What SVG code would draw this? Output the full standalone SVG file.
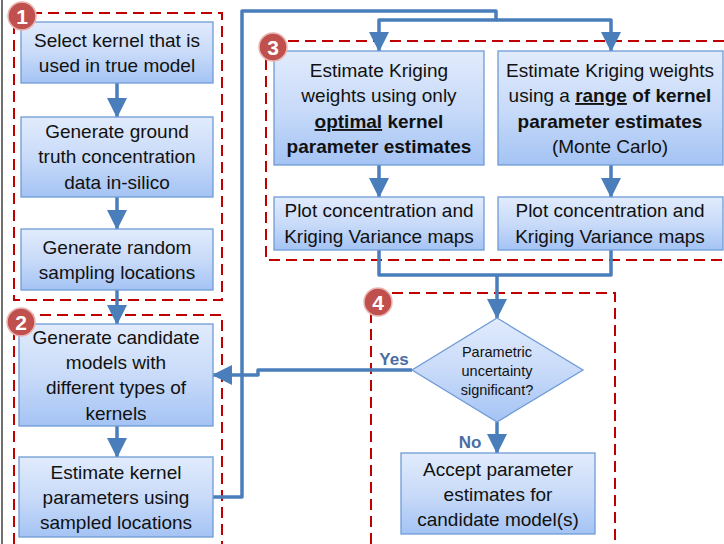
<svg xmlns="http://www.w3.org/2000/svg" width="724" height="544" viewBox="0 0 724 544">
<style>
.box{fill:url(#g);stroke:#6f9bd6;stroke-width:1.3}
.t{font-family:"Liberation Sans",Arial,sans-serif;font-size:19px;fill:#111;text-anchor:middle}
.b{font-weight:bold}
.u{text-decoration:underline}
.dt{font-family:"Liberation Sans",Arial,sans-serif;font-size:14.5px;fill:#111;text-anchor:middle}
.c{fill:none;stroke:#4a7ebb;stroke-width:3.5;stroke-linejoin:round}
.ca{marker-end:url(#ah)}
.grp{fill:none;stroke:#c00000;stroke-width:2;stroke-dasharray:11 6}
.badge{fill:#c0504d;stroke:#e8b5b3;stroke-width:1.5}
.bn{font-family:"Liberation Sans",Arial,sans-serif;font-size:21px;font-weight:bold;fill:#fff;text-anchor:middle}
.lbl{font-family:"Liberation Sans",Arial,sans-serif;font-size:17px;font-weight:bold;fill:#4a6ea4;text-anchor:middle}
</style>
<defs>
<linearGradient id="g" x1="0" y1="0" x2="0" y2="1">
<stop offset="0" stop-color="#e1ebfc"/>
<stop offset="0.5" stop-color="#c9dbf9"/>
<stop offset="1" stop-color="#a4c3f4"/>
</linearGradient>
<marker id="ah" markerUnits="userSpaceOnUse" markerWidth="20" markerHeight="20" refX="19" refY="10" orient="auto">
<path d="M0,0 L20,10 L0,20 Z" fill="#4a7ebb"/>
</marker>
</defs>
<rect width="724" height="544" fill="#fff"/>
<line x1="2" y1="0" x2="2" y2="544" stroke="#222" stroke-width="1.3"/>

<g id="groups">
<rect class="grp" x="14" y="13" width="208" height="287"/>
<path class="grp" d="M14 544 V315 H222 V544"/>
<path class="grp" d="M724 41 H266 V260 H724"/>
<path class="grp" d="M371 544 V293 H615 V544"/>
</g>

<g id="connectors">
<path class="c ca" d="M117 83 V117"/>
<path class="c ca" d="M117 197 V229"/>
<path class="c ca" d="M117 290 V324"/>
<path class="c ca" d="M117 426 V457"/>
<path class="c ca" d="M213 497 H242 V11 H496 V20 H379 V51"/>
<path class="c ca" d="M496 20 H611 V51"/>
<path class="c ca" d="M379 165 V197"/>
<path class="c ca" d="M611 165 V197"/>
<path class="c" d="M379 250 V275 H611 V250"/>
<path class="c ca" d="M497 275 V318"/>
<path class="c ca" d="M412 370 H258 V375 H213"/>
<path class="c ca" d="M497 422 V453"/>
</g>

<g id="n1">
<rect class="box" x="21" y="22" width="192" height="61"/>
<text class="t" x="117" y="47">Select kernel that is</text>
<text class="t" x="117" y="72">used in true model</text>
</g>
<g id="n2">
<rect class="box" x="21" y="117" width="192" height="80"/>
<text class="t" x="117" y="138">Generate ground</text>
<text class="t" x="117" y="163">truth concentration</text>
<text class="t" x="117" y="189">data in-silico</text>
</g>
<g id="n3">
<rect class="box" x="21" y="229" width="192" height="61"/>
<text class="t" x="117" y="254">Generate random</text>
<text class="t" x="117" y="279">sampling locations</text>
</g>
<g id="n4">
<rect class="box" x="19" y="324" width="194" height="102"/>
<text class="t" x="116" y="344">Generate candidate</text>
<text class="t" x="116" y="369">models with</text>
<text class="t" x="116" y="394">different types of</text>
<text class="t" x="116" y="420">kernels</text>
</g>
<g id="n5">
<rect class="box" x="19" y="457" width="194" height="80"/>
<text class="t" x="116" y="479">Estimate kernel</text>
<text class="t" x="116" y="504">parameters using</text>
<text class="t" x="116" y="529">sampled locations</text>
</g>
<g id="n6">
<rect class="box" x="274" y="51" width="210" height="114"/>
<text class="t" x="379" y="77">Estimate Kriging</text>
<text class="t" x="379" y="102">weights using only</text>
<text class="t b" x="379" y="128"><tspan class="u">optimal</tspan> kernel</text>
<text class="t b" x="379" y="153">parameter estimates</text>
</g>
<g id="n7">
<rect class="box" x="498" y="51" width="225" height="114"/>
<text class="t" x="610" y="77">Estimate Kriging weights</text>
<text class="t" x="610" y="102">using a <tspan class="b u">range</tspan><tspan class="b"> of kernel</tspan></text>
<text class="t b" x="610" y="128">parameter estimates</text>
<text class="t" x="610" y="153">(Monte Carlo)</text>
</g>
<g id="n8">
<rect class="box" x="274" y="197" width="210" height="53"/>
<text class="t" x="379" y="217">Plot concentration and</text>
<text class="t" x="379" y="243">Kriging Variance maps</text>
</g>
<g id="n9">
<rect class="box" x="498" y="197" width="225" height="53"/>
<text class="t" x="610" y="217">Plot concentration and</text>
<text class="t" x="610" y="243">Kriging Variance maps</text>
</g>
<g id="n10">
<path class="box" d="M497 318 L583 370 L497 422 L412 370 Z"/>
<text class="dt" x="497" y="357">Parametric</text>
<text class="dt" x="497" y="376">uncertainty</text>
<text class="dt" x="497" y="395">significant?</text>
</g>
<g id="n11">
<rect class="box" x="401" y="453" width="194" height="81"/>
<text class="t" x="498" y="476">Accept parameter</text>
<text class="t" x="498" y="501">estimates for</text>
<text class="t" x="498" y="526">candidate model(s)</text>
</g>
<g id="labels">
<text class="lbl" x="394" y="365">Yes</text>
<text class="lbl" x="470" y="448">No</text>
</g>
<g id="badges">
<circle class="badge" cx="22" cy="16" r="14"/><text class="bn" x="22" y="23.5">1</text>
<circle class="badge" cx="21" cy="322" r="14"/><text class="bn" x="21" y="329.5">2</text>
<circle class="badge" cx="273" cy="47" r="14"/><text class="bn" x="273" y="54.5">3</text>
<circle class="badge" cx="378" cy="302" r="14"/><text class="bn" x="378" y="309.5">4</text>
</g>
</svg>
